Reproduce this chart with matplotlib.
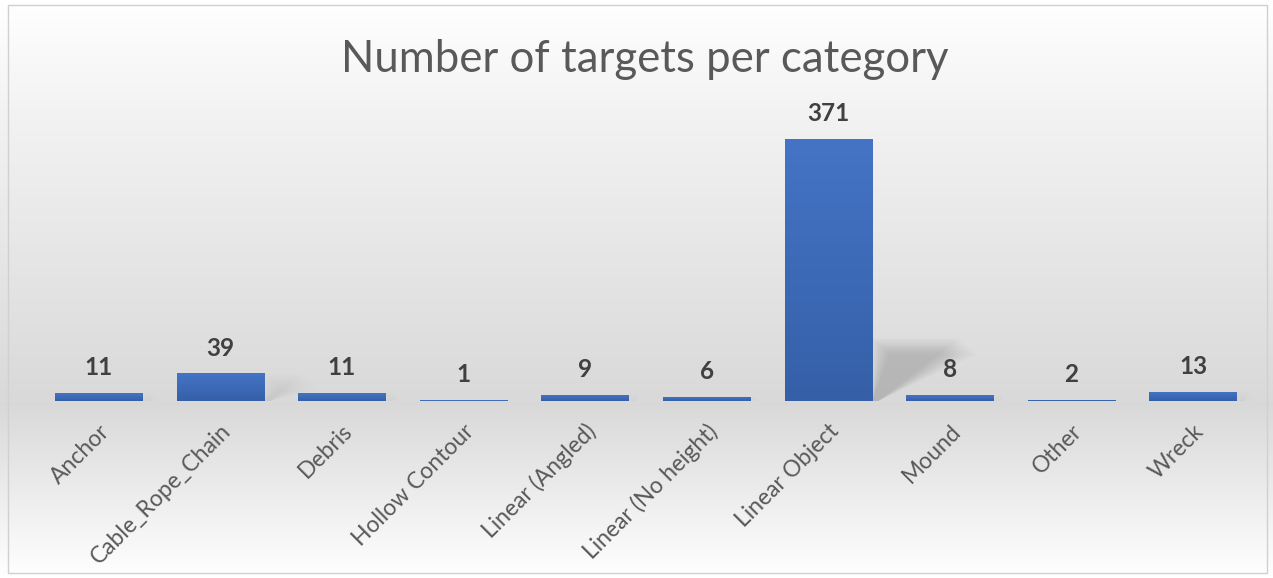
import numpy as np
import matplotlib
matplotlib.use("Agg")
import matplotlib.pyplot as plt
from matplotlib.patches import Rectangle, Polygon
from matplotlib.colors import LinearSegmentedColormap

categories = ["Anchor", "Cable_Rope_Chain", "Debris", "Hollow Contour", "Linear (Angled)",
              "Linear (No height)", "Linear Object", "Mound", "Other", "Wreck"]
counts = [11, 39, 11, 1, 9, 6, 371, 8, 2, 13]
title = "Number of targets per category"

plt.rcParams['font.family'] = ['Lato', 'DejaVu Sans']

W, H = 1273, 578
fig = plt.figure(figsize=(W / 100, H / 100), dpi=100)

# background gradient (figure level)
bg = fig.add_axes([0, 0, 1, 1], zorder=-10)
bg.set_axis_off()
yy = np.linspace(0, 1, 400)  # 0 = top
stops_y = [0.0, 0.2, 0.45, 0.70, 1.0]
stops_v = [1.0, 0.95, 0.90, 0.85, 1.0]
vals = np.interp(yy, stops_y, stops_v)
img = np.repeat(vals[:, None], 2, axis=1)
bg.imshow(np.dstack([img, img, img]), aspect='auto', extent=[0, 1, 0, 1], origin='upper')
bg.set_xlim(0, 1)
bg.set_ylim(0, 1)
bg.add_patch(Rectangle((8 / W, 5 / H), 1 - 14 / W, 1 - 10 / H, fill=False,
                       edgecolor='#d0d0d0', lw=1.0, transform=bg.transAxes))

ax = fig.add_axes([38 / W, 177 / H, 1216 / W, 282.5 / H])
ax.patch.set_alpha(0)
x = np.arange(len(categories))
bw = 0.72
bars = ax.bar(x, counts, width=bw, color='#4472c4', zorder=3)
ax.set_xlim(-0.5, len(categories) - 0.5)
ax.set_ylim(0, 400)

# gradient fill on bars
cmap = LinearSegmentedColormap.from_list('bl', ['#3560a8', '#4574c6'])
grad = np.linspace(0, 1, 256)[:, None]
for b in bars:
    x0, w, h = b.get_x(), b.get_width(), b.get_height()
    im = ax.imshow(grad, cmap=cmap, aspect='auto', origin='lower',
                   extent=[x0, x0 + w, 0, h], zorder=4)
    im.set_clip_path(b)

# soft perspective shadow behind the bars
for b in bars:
    x0, w, h = b.get_x(), b.get_width(), b.get_height()
    sh = min(h, 90) * 0.98
    dx = 0.72 * min(h, 90) / 90
    strength = 0.035 if h > 50 else 0.012
    for k in range(8):
        g = k * 0.02
        poly = Polygon([[x0 + w, 0], [x0 + w + g, sh - k * 3], [x0 + w + dx + g, sh - k * 3],
                        [x0 + w + 0.05, 0]], closed=True, facecolor='#555555',
                       edgecolor='none', alpha=strength, zorder=2)
        ax.add_patch(poly)

for xi, v in zip(x, counts):
    ax.annotate(str(v), (xi, v), xytext=(0, 10), textcoords='offset points',
                ha='center', va='bottom', fontsize=17.5, fontweight='bold', color='#404040')

ax.set_xticks(x)
ax.set_xticklabels(categories, rotation=45, ha='right', rotation_mode='anchor',
                   fontsize=16.5, color='#595959')
ax.tick_params(axis='x', length=0, pad=14)
ax.set_yticks([])
for s in ax.spines.values():
    s.set_visible(False)

fig.text(645 / W, 1 - 60 / H, title, ha='center', va='center', fontsize=31.5, color='#595959')

fig.savefig('out.png', dpi=100)
